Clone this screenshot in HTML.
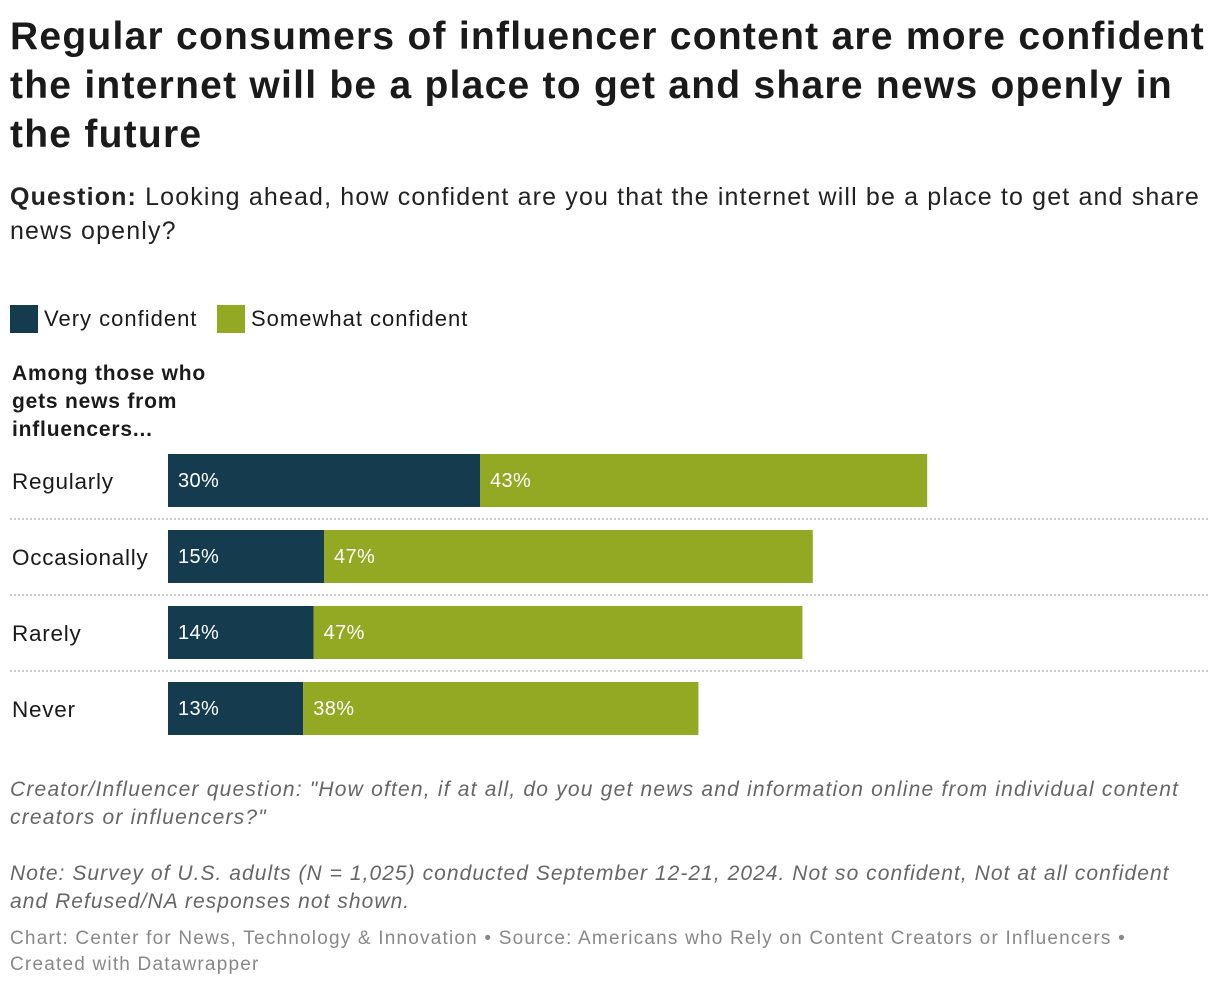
<!DOCTYPE html>
<html><head><meta charset="utf-8"><style>
body{margin:0;width:1220px;height:990px;background:#fff;font-family:"Liberation Sans",sans-serif;color:#1a1a1a;position:relative;overflow:hidden}
.a{position:absolute;white-space:nowrap}
h1{position:absolute;left:10px;top:12px;margin:0;font-size:39px;line-height:49px;font-weight:bold;white-space:nowrap;letter-spacing:1.25px}
.q{left:10px;top:180px;font-size:25px;line-height:34px;color:#222;letter-spacing:1.15px}
.lg{top:305px;font-size:22px;display:flex;align-items:center;letter-spacing:1px}
.sw{width:28px;height:28px;display:inline-block;margin-right:6px}
.gt{left:12px;top:360px;font-size:21px;font-weight:bold;line-height:28px;letter-spacing:0.8px}
.note{left:10px;font-size:21px;font-style:italic;color:#666;line-height:28px}
.src{left:10px;top:926px;font-size:19px;color:#888;line-height:26px;letter-spacing:1.2px}
</style></head><body>
<h1>Regular consumers of influencer content are more confident<br>the internet will be a place to get and share news openly in<br>the future</h1>
<div class="a q"><b>Question:</b> Looking ahead, how confident are you that the internet will be a place to get and share<br>news openly?</div>
<div class="a lg" style="left:10px"><span class="sw" style="background:#143b4e"></span>Very confident</div>
<div class="a lg" style="left:217px"><span class="sw" style="background:#93a923"></span>Somewhat confident</div>
<div class="a gt">Among those who<br>gets news from<br>influencers...</div>
<svg class="a" style="left:0;top:0" width="1220" height="990" id="chart"></svg>
<div class="a note" style="top:776px;letter-spacing:1.2px">Creator/Influencer question: "How often, if at all, do you get news and information online from individual content<br>creators or influencers?"</div>
<div class="a note" style="top:860px;letter-spacing:1.05px">Note: Survey of U.S. adults (N = 1,025) conducted September 12-21, 2024. Not so confident, Not at all confident<br>and Refused/NA responses not shown.</div>
<div class="a src">Chart: Center for News, Technology &amp; Innovation • Source: Americans who Rely on Content Creators or Influencers •<br>Created with Datawrapper</div>
<script>
const categories=["Regularly","Occasionally","Rarely","Never"];
const veryConfident=[30,15,14,13];
const somewhatConfident=[43,47,47,38];
const svg=document.getElementById('chart');
const NS="http://www.w3.org/2000/svg";
const x0=168,pxPer=10.4;
const xs=v=>x0+v*pxPer;
const yTop=i=>454+i*76;
function mk(t,a){const e=document.createElementNS(NS,t);for(const k in a)e.setAttribute(k,a[k]);svg.appendChild(e);return e;}
categories.forEach((c,i)=>{
 const y=yTop(i);
 if(i>0){const l=mk('line',{x1:10,x2:1208,y1:y-11,y2:y-11,stroke:'#ccc','stroke-width':2,'stroke-dasharray':'2,2'});
 
 }
 const lt=mk('text',{x:12,y:y+35,'font-size':22.5,fill:'#1a1a1a','font-family':'Liberation Sans','letter-spacing':0.75});lt.textContent=c;
 
 
 const b1=mk('rect',{x:xs(0),y:y,width:xs(veryConfident[i])-xs(0),height:53,fill:'#143b4e'});
 
 
 const b2=mk('rect',{x:xs(veryConfident[i]),y:y,width:xs(veryConfident[i]+somewhatConfident[i])-xs(veryConfident[i]),height:53,fill:'#93a923'});
 
 
 const t1=mk('text',{x:xs(0)+10,y:y+33,'font-size':20,fill:'#fff','font-family':'Liberation Sans','letter-spacing':0.4});t1.textContent=veryConfident[i]+'%';
 
 
 const t2=mk('text',{x:xs(veryConfident[i])+10,y:y+33,'font-size':20,fill:'#fff','font-family':'Liberation Sans','letter-spacing':0.4});t2.textContent=somewhatConfident[i]+'%';
 
 
});
</script>
</body></html>
